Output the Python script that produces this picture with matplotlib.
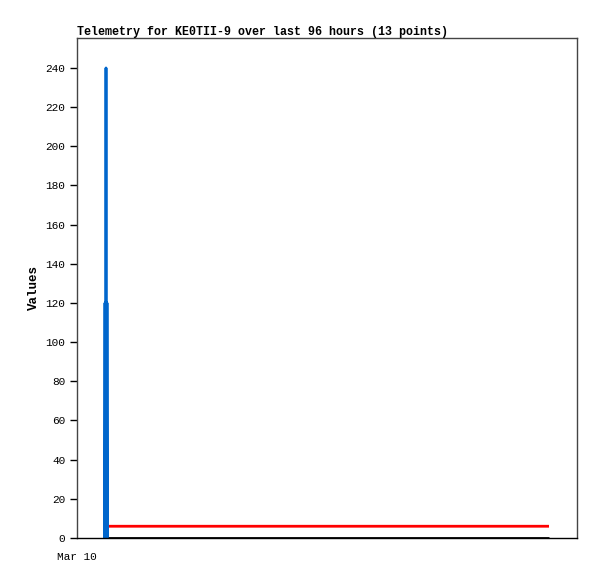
import numpy as np
import matplotlib
matplotlib.use('Agg')
import matplotlib.pyplot as plt

# hours since Mar 10 00:00
hours = [5.5, 5.6, 5.65, 5.7, 5.75, 5.8, 5.85, 5.9, 5.95, 6.0, 6.1, 6.2, 94.4]
blue_vals = [0, 120, 0, 120, 0, 240, 0, 120, 0, 120, 0, 0, np.nan]
red_vals = [5, 5, 6, 6, 6, 6, 6, 6, 6, 6, 6, 6, 6]
black_vals = [0, 0, 0, 0, 0, 0, 0, 0, 0, 0, 0, 0, 0]
yticks = list(range(0, 241, 20))
xtick_pos = [0]
xtick_lab = ['Mar 10']

plt.rcParams['font.family'] = ['Liberation Mono', 'DejaVu Sans Mono']

fig = plt.figure(figsize=(5.97, 5.79), dpi=100)
ax = fig.add_axes([77/597, 1-538/579, 500/597, 500/579])

ax.plot(hours, black_vals, color='black', lw=2, solid_capstyle='butt')
ax.plot(hours, red_vals, color='#ff0000', lw=2, solid_capstyle='butt')
ax.plot(hours, blue_vals, color='#0066cc', lw=2, solid_capstyle='butt')

ax.set_xlim(0, 100)
ax.set_ylim(0, 255.3)
ax.set_yticks(yticks)
ax.set_xticks(xtick_pos)
ax.set_xticklabels(xtick_lab)
ax.tick_params(labelsize=8, length=5, width=1, color='black')
ax.tick_params(axis='x', length=0, pad=10)
for s in ax.spines.values():
    s.set_color('#444444')
    s.set_linewidth(1)
ax.spines['bottom'].set_color('black')

ax.set_ylabel('Values', fontsize=9, fontweight='bold', labelpad=4)
ax.set_title('Telemetry for KE0TII-9 over last 96 hours (13 points)',
             fontsize=8.4, fontweight='bold', loc='left', pad=2)

fig.savefig('out.png', dpi=100)
